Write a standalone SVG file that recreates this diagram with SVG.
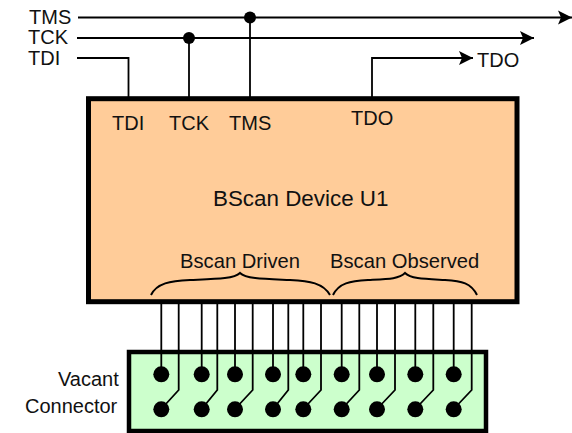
<svg xmlns="http://www.w3.org/2000/svg" width="572" height="433" viewBox="0 0 572 433">
<style>
text{font-family:"Liberation Sans",Arial,sans-serif;font-size:20px;fill:#111}
.w{fill:none;stroke:#000;stroke-width:1.8}
.b{fill:none;stroke:#000;stroke-width:2}
.d{fill:#000}
</style>
<defs><marker id="a" markerUnits="userSpaceOnUse" markerWidth="15" markerHeight="16" refX="14" refY="8" orient="auto"><path d="M0 1L14 8L0 15L3 8Z" fill="#000"/></marker></defs>
<g id="device-u1">
<rect x="88.5" y="98.7" width="428.5" height="203" fill="#ffcc99" stroke="#000" stroke-width="5"/>
<text x="112" y="130">TDI</text>
<text x="169" y="130">TCK</text>
<text x="229" y="130">TMS</text>
<text x="351" y="125">TDO</text>
<text x="213" y="206" style="font-size:22.400px">BScan Device U1</text>
<text x="180" y="268" style="font-size:20.200px">Bscan Driven</text>
<text x="330" y="268" style="font-size:20.200px">Bscan Observed</text>
<path class="b" d="M151 295C157 283 170 281 190 280C215 279 234 279 240 273C246 279 265 279 290 280C310 281 323 283 330 295"/>
<path class="b" d="M333 295C339 283 350 281 368 280C388 279 399 279 405 273C411 279 425 279 445 280C462 281 471 283 477 295"/>
</g>
<g id="vacant-connector">
<rect x="129" y="352" width="357" height="79" fill="#ccffcc" stroke="#000" stroke-width="4.500"/>
</g>
<g id="connectors">
<path class="w" d="M78 17.500H572" marker-end="url(#a)"/>
<path class="w" d="M77 38H534" marker-end="url(#a)"/>
<path class="w" d="M77 58H128.500V97"/>
<path class="w" d="M189 38V97"/>
<path class="w" d="M250 17.500V97"/>
<path class="w" d="M372 97V58H473" marker-end="url(#a)"/>
<circle class="d" cx="189" cy="38" r="6"/>
<circle class="d" cx="250" cy="17.500" r="6"/>
<path class="w" d="M161.300 303V374M201.700 303V374M235 303V374M273 303V374M303.300 303V374M341.700 303V374M377 303V374M415.300 303V374M453.700 303V374"/>
<path class="w" d="M178.700 303V390L161.300 409M217.300 303V390L201.700 409M252.700 303V390L235 409M288.300 303V390L273 409M321 303V390L303.300 409M359.300 303V390L341.700 409M395 303V390L377 409M433.300 303V390L415.300 409M471.700 303V390L453.700 409"/>
<g class="d">
<circle cx="161.300" cy="374.300" r="8"/><circle cx="201.700" cy="374.300" r="8"/><circle cx="235" cy="374.300" r="8"/><circle cx="273" cy="374.300" r="8"/><circle cx="303.300" cy="374.300" r="8"/><circle cx="341.700" cy="374.300" r="8"/><circle cx="377" cy="374.300" r="8"/><circle cx="415.300" cy="374.300" r="8"/><circle cx="453.700" cy="374.300" r="8"/>
<circle cx="161.300" cy="409.300" r="8"/><circle cx="201.700" cy="409.300" r="8"/><circle cx="235" cy="409.300" r="8"/><circle cx="273" cy="409.300" r="8"/><circle cx="303.300" cy="409.300" r="8"/><circle cx="341.700" cy="409.300" r="8"/><circle cx="377" cy="409.300" r="8"/><circle cx="415.300" cy="409.300" r="8"/><circle cx="453.700" cy="409.300" r="8"/>
</g>
</g>
<g id="labels">
<text x="29" y="24">TMS</text>
<text x="28" y="44">TCK</text>
<text x="28" y="65">TDI</text>
<text x="477" y="67">TDO</text>
<text x="58" y="386">Vacant</text>
<text x="25" y="413">Connector</text>
</g>
</svg>
